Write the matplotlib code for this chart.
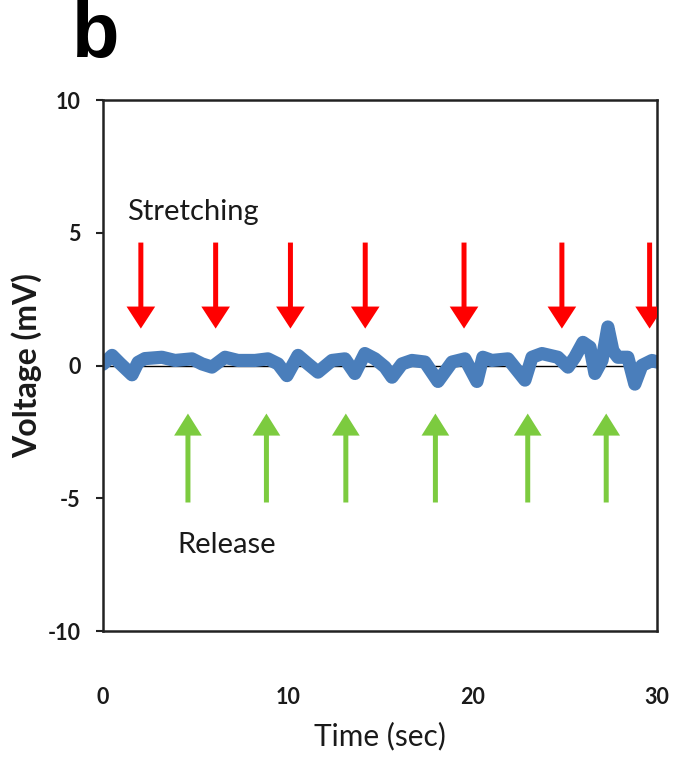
import matplotlib
matplotlib.use("Agg")
import matplotlib.pyplot as plt

# ---- data -----------------------------------------------------------
time_s = [0.0, 0.11, 0.49, 0.92, 1.57, 1.90, 2.27, 3.19, 3.90, 4.82, 5.36,
          5.90, 6.61, 7.31, 8.23, 8.93, 9.48, 9.96, 10.56, 11.10, 11.64,
          12.40, 13.10, 13.64, 14.18, 14.73, 15.27, 15.65, 16.19, 16.73,
          17.43, 18.14, 18.90, 19.60, 20.25, 20.57, 21.06, 21.93, 22.85,
          23.23, 23.77, 24.63, 25.18, 25.55, 25.99, 26.37, 26.64, 27.02,
          27.34, 27.61, 27.88, 28.42, 28.80, 29.18, 29.73, 30.0]
voltage_mv = [0.05, 0.12, 0.38, 0.08, -0.35, 0.12, 0.26, 0.31, 0.19, 0.25,
              0.06, -0.06, 0.31, 0.19, 0.19, 0.25, 0.06, -0.38, 0.38, 0.06,
              -0.25, 0.19, 0.25, -0.30, 0.45, 0.25, -0.06, -0.44, 0.06, 0.19,
              0.13, -0.60, 0.13, 0.25, -0.60, 0.31, 0.19, 0.25, -0.55, 0.31,
              0.45, 0.31, -0.06, 0.31, 0.87, 0.69, -0.30, 0.19, 1.45, 0.56,
              0.31, 0.31, -0.70, 0.0, 0.19, 0.13]

stretch_t = [2.05, 6.1, 10.15, 14.2, 19.55, 24.85, 29.6]
release_t = [4.6, 8.85, 13.15, 18.0, 23.0, 27.25]
stretch_span = (4.63, 1.39)    # tail, tip (mV)
release_span = (-5.16, -1.81)  # tail, tip (mV)

x_ticks = [0, 10, 20, 30]
y_ticks = [-10, -5, 0, 5, 10]

BLUE = "#4a7ebb"
RED = "#ff0000"
GREEN = "#7ccb3f"

plt.rcParams["font.family"] = ["Lato", "DejaVu Sans"]
plt.rcParams["axes.unicode_minus"] = False

fig = plt.figure(figsize=(6.76, 7.59), dpi=100)
ax = fig.add_axes([103 / 676, 1 - 631 / 759, 554 / 676, 531 / 759])

ax.axhline(0, color="black", lw=1.0, zorder=1)
ax.plot(time_s, voltage_mv, color=BLUE, lw=9.5, solid_capstyle="round",
        solid_joinstyle="round", zorder=2)

# stimulus arrows
for t in stretch_t:
    tail, tip = stretch_span
    ax.arrow(t, tail, 0, tip - tail, width=0.27, head_width=1.55,
             head_length=0.83, length_includes_head=True,
             color=RED, lw=0, zorder=3)
for t in release_t:
    tail, tip = release_span
    ax.arrow(t, tail, 0, tip - tail, width=0.27, head_width=1.5,
             head_length=0.83, length_includes_head=True,
             color=GREEN, lw=0, zorder=3)

ax.text(1.3, 5.8, "Stretching", fontsize=21, ha="left", va="center",
        color="#1a1a1a")
ax.text(4.05, -6.75, "Release", fontsize=21, ha="left", va="center",
        color="#1a1a1a")

ax.set_xlim(0, 30)
ax.set_ylim(-10, 10)
ax.set_xticks(x_ticks)
ax.set_yticks(y_ticks)
ax.tick_params(axis="y", direction="out", length=5, width=1.5, pad=11,
               labelsize=15.5, color="#222222")
ax.tick_params(axis="x", length=0, pad=40, labelsize=15.5)
for lab in ax.get_xticklabels() + ax.get_yticklabels():
    lab.set_fontweight("bold")
    lab.set_color("#1a1a1a")

for s in ax.spines.values():
    s.set_linewidth(1.8)
    s.set_color("#222222")

ax.set_xlabel("Time (sec)", fontsize=21.5, labelpad=10, color="#1a1a1a")
ax.set_ylabel("Voltage (mV)", fontsize=23, fontweight="bold", labelpad=4,
              color="#1a1a1a")

fig.text(72 / 676, 1 - 0 / 759, "b", fontsize=56, fontweight="bold",
         family="Liberation Sans", ha="left", va="top")

fig.savefig("out.png", dpi=100, facecolor="white")
